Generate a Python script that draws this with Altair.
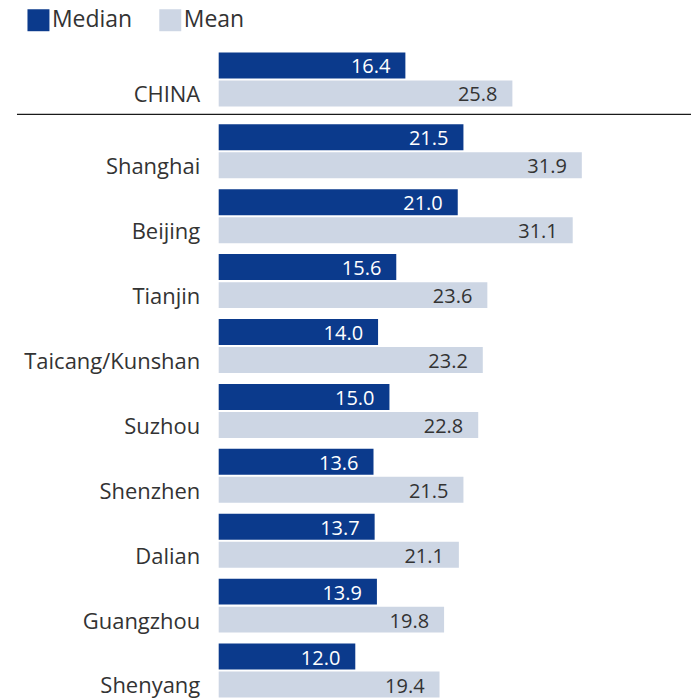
import altair as alt
import pandas as pd

# Data
top_cat = ["CHINA"]
top_median = [16.4]
top_mean = [25.8]

cities = ["Shanghai", "Beijing", "Tianjin", "Taicang/Kunshan", "Suzhou",
          "Shenzhen", "Dalian", "Guangzhou", "Shenyang"]
city_median = [21.5, 21.0, 15.6, 14.0, 15.0, 13.6, 13.7, 13.9, 12.0]
city_mean = [31.9, 31.1, 23.6, 23.2, 22.8, 21.5, 21.1, 19.8, 19.4]

series = ["Median", "Mean"]
colors = ["#0b3a8c", "#cdd6e4"]


def long_df(cats, med, mean):
    rows = []
    for c, a, b in zip(cats, med, mean):
        rows.append({"cat": c, "series": "Median", "value": a})
        rows.append({"cat": c, "series": "Mean", "value": b})
    return pd.DataFrame(rows)


FONT = "Open Sans"
PXU = 11.4
W = 470
XMAX = W / PXU

x_enc = alt.X("value:Q", scale=alt.Scale(domain=[0, XMAX], nice=False, zero=True), axis=None)


def panel(df, cats, height, pad_inner, show_legend, with_rule):
    y_enc = alt.Y("cat:N", sort=cats,
                  scale=alt.Scale(paddingInner=pad_inner, paddingOuter=0),
                  axis=alt.Axis(title=None, ticks=False, domain=False, labelFontSize=22,
                                labelFont=FONT, labelColor="#333333", labelPadding=19,
                                labelBaseline="middle", labelOffset=16,
                                minExtent=211, maxExtent=211, labelLimit=300))
    yoff = alt.YOffset("series:N", sort=series,
                       scale=alt.Scale(paddingInner=0.075, paddingOuter=0))
    if show_legend:
        legend = alt.Legend(title=None, orient="none", legendX=-192, legendY=-44,
                            direction="horizontal", symbolType="square", symbolSize=484,
                            symbolStrokeWidth=0, labelFontSize=23, labelFont=FONT,
                            labelColor="#333333", symbolOffset=0, labelOffset=2,
                            columnPadding=26, padding=0)
    else:
        legend = None
    color = alt.Color("series:N", sort=series,
                      scale=alt.Scale(domain=series, range=colors), legend=legend)
    base = alt.Chart(df)
    bars = base.mark_bar(size=26).encode(x=x_enc, y=y_enc, yOffset=yoff, color=color)
    text = base.mark_text(align="right", baseline="middle", dx=-15, dy=2,
                          fontSize=20, font=FONT).encode(
        x=x_enc, y=alt.Y("cat:N", sort=cats), yOffset=alt.YOffset("series:N", sort=series),
        text=alt.Text("value:Q", format=".1f"),
        color=alt.condition(alt.datum.series == "Median", alt.value("white"),
                            alt.value("#333333")))
    layers = [bars, text]
    if with_rule:
        rule = alt.Chart(pd.DataFrame({"r": [0]})).mark_rule(
            color="#1a1a1a", strokeWidth=1.4).encode(
            x=alt.value(-202), x2=alt.value(W + 3), y=alt.value(height + 8))
        layers.append(rule)
    return alt.layer(*layers).properties(width=W, height=height)


top = panel(long_df(top_cat, top_median, top_mean), top_cat, 54, 0.0, True, True)
bottom = panel(long_df(cities, city_median, city_mean), cities, 574, 0.169, False, False)

chart = alt.vconcat(top, bottom, spacing=8).properties(
    padding={"top": 0, "left": 0, "right": 0, "bottom": 0}
).configure_view(stroke=None)

chart.save("out.html", embed_options={"renderer": "svg", "actions": False})
